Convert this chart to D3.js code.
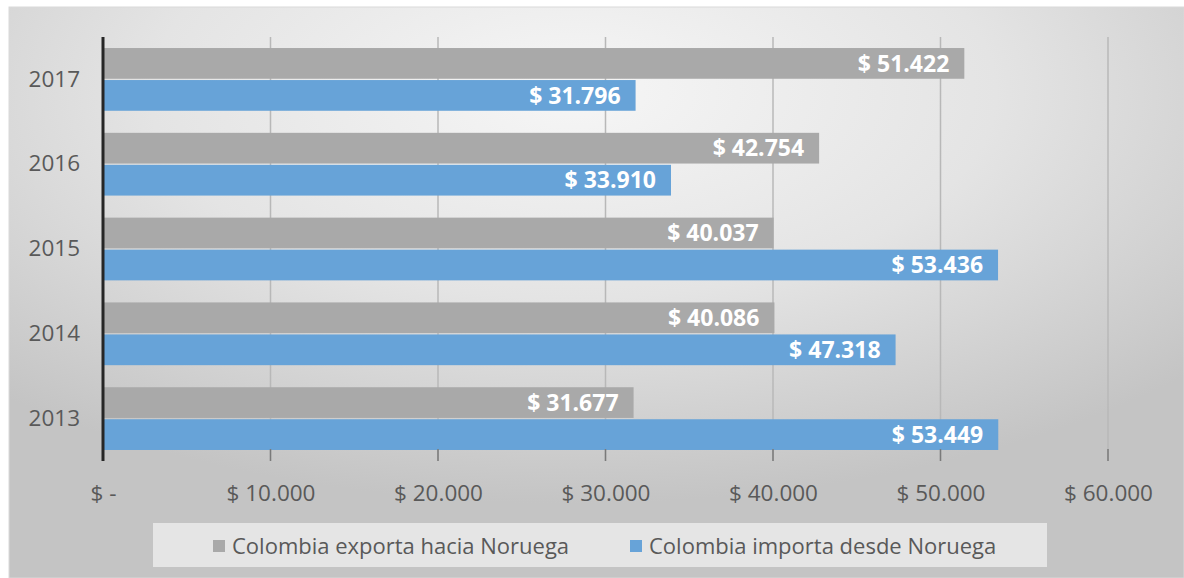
<!DOCTYPE html>
<html>
<head>
<meta charset="utf-8">
<script src="https://cdn.jsdelivr.net/npm/d3@7"></script>
<style>
  body { margin: 0; background: #ffffff; }
  text { font-family: "Open Sans", "Noto Sans", sans-serif; }
</style>
</head>
<body>
<div id="chart"></div>
<script>
// datos
var years = ["2017", "2016", "2015", "2014", "2013"];
var exporta = [51422, 42754, 40037, 40086, 31677];
var importa = [31796, 33910, 53436, 47318, 53449];
var seriesNames = ["Colombia exporta hacia Noruega", "Colombia importa desde Noruega"];
var xTicks = [0, 10000, 20000, 30000, 40000, 50000, 60000];

var width = 1184, height = 578;
var margin = {top: 37, right: 76, bottom: 117, left: 103};
var widthp = width - margin.left - margin.right;
var heightp = height - margin.top - margin.bottom;

var grisBar = "#a9a9a9", azulBar = "#67a3d8";

var svg = d3.select("#chart").append("svg")
  .attr("width", width)
  .attr("height", height);

// fondo con degradado
var defs = svg.append("defs");
var grad = defs.append("radialGradient")
  .attr("id", "bg")
  .attr("cx", "48%").attr("cy", "15%").attr("r", "72%");
grad.append("stop").attr("offset", "0%").attr("stop-color", "#f6f6f6");
grad.append("stop").attr("offset", "50%").attr("stop-color", "#e4e4e4");
grad.append("stop").attr("offset", "100%").attr("stop-color", "#c4c4c4");

svg.append("rect")
  .attr("x", 9).attr("y", 7)
  .attr("width", width - 9).attr("height", height - 7)
  .attr("fill", "url(#bg)")
  .attr("stroke", "#d9d9d9");

var g = svg.append("g")
  .attr("transform", "translate(" + margin.left + "," + margin.top + ")");

var xScale = d3.scaleLinear().domain([0, 60000]).range([0, 1005]);
var yScale = d3.scaleBand().domain(years).range([0, heightp])
  .paddingInner(0.26).paddingOuter(0.13);
var sub = d3.scaleBand().domain([0, 1]).range([0, yScale.bandwidth()]).paddingInner(0.04);

var fmt = function(v) { return "$ " + d3.format(",")(v).replace(/,/g, "."); };

// lineas de cuadricula
g.selectAll(".grid")
  .data(xTicks.slice(1))
  .enter().append("line")
  .attr("class", "grid")
  .attr("x1", function(d) { return xScale(d); })
  .attr("x2", function(d) { return xScale(d); })
  .attr("y1", 0).attr("y2", heightp)
  .attr("stroke", "#b8b8b8")
  .attr("stroke-width", 1.5);

// barras
var grupos = g.selectAll(".year")
  .data(years)
  .enter().append("g")
  .attr("transform", function(d) { return "translate(0," + yScale(d) + ")"; });

grupos.each(function(d, i) {
  var vals = [exporta[i], importa[i]];
  var cols = [grisBar, azulBar];
  var sel = d3.select(this);
  vals.forEach(function(v, k) {
    sel.append("rect")
      .attr("x", 0)
      .attr("y", sub(k))
      .attr("width", xScale(v))
      .attr("height", sub.bandwidth())
      .attr("fill", cols[k]);
    sel.append("text")
      .attr("x", xScale(v) - 15)
      .attr("y", sub(k) + sub.bandwidth() / 2)
      .attr("dy", "0.36em")
      .attr("text-anchor", "end")
      .attr("fill", "#ffffff")
      .attr("font-weight", "bold")
      .attr("font-size", "23px")
      .text(fmt(v));
  });
});

// eje x
var xAxis = g.append("g")
  .attr("transform", "translate(0," + heightp + ")")
  .call(d3.axisBottom(xScale).tickValues(xTicks).tickSize(0).tickPadding(24)
    .tickFormat(function(d) { return d === 0 ? "$ -" : fmt(d); }));
xAxis.select(".domain").remove();
xAxis.selectAll("text")
  .attr("fill", "#595959")
  .attr("font-size", "22.5px");

// marcas del eje
g.selectAll(".tickmark")
  .data(xTicks.slice(1))
  .enter().append("line")
  .attr("x1", function(d) { return xScale(d); })
  .attr("x2", function(d) { return xScale(d); })
  .attr("y1", heightp - 12).attr("y2", heightp)
  .attr("stroke", "#7a7a7a")
  .attr("stroke-width", 1.5);

// eje y
var yAxis = g.append("g")
  .call(d3.axisLeft(yScale).tickSize(0).tickPadding(23));
yAxis.select(".domain").remove();
yAxis.selectAll("text")
  .attr("fill", "#595959")
  .attr("font-size", "22.5px");

g.append("line")
  .attr("x1", 0).attr("x2", 0)
  .attr("y1", 0).attr("y2", heightp)
  .attr("stroke", "#262626")
  .attr("stroke-width", 3);

// leyenda
var leyenda = svg.append("g").attr("transform", "translate(153,523)");
leyenda.append("rect")
  .attr("width", 894).attr("height", 44)
  .attr("fill", "#ebebeb").attr("opacity", 0.85);
var posLeg = [60, 477];
seriesNames.forEach(function(s, k) {
  leyenda.append("rect")
    .attr("x", posLeg[k]).attr("y", 17)
    .attr("width", 12).attr("height", 12)
    .attr("fill", [grisBar, azulBar][k]);
  leyenda.append("text")
    .attr("x", posLeg[k] + 19).attr("y", 23)
    .attr("dy", "0.36em")
    .attr("fill", "#595959")
    .attr("font-size", "22px")
    .text(s);
});
</script>
</body>
</html>
